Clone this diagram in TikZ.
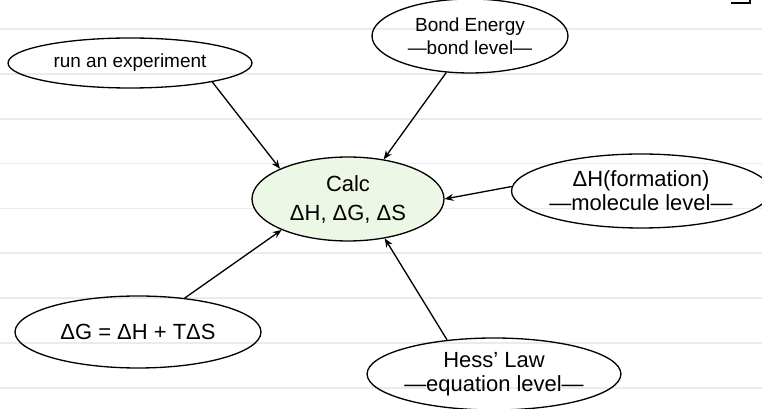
\documentclass[tikz,border=0pt]{standalone}
\usepackage{fontspec}
\setmainfont{Liberation Sans}
\usetikzlibrary{arrows.meta,shapes.geometric}
\definecolor{calcfill}{HTML}{EDF7E5}
\definecolor{ruleline}{HTML}{EBEBEB}

\begin{document}
\begin{tikzpicture}[x=0.02cm, y=0.02cm, >={Stealth[length=5pt,width=4pt]},
    topic/.style={ellipse, draw, line width=0.75pt, inner sep=0pt, align=center},
    small/.style={font=\fontsize{10.8}{13}\selectfont},
    big/.style={font=\fontsize{12.5}{13.5}\selectfont},
    link/.style={->, line width=0.75pt}]
                \useasboundingbox (0,0) rectangle (762,409);

                % ruled paper
                \foreach \k in {0,...,8}
                    \draw[ruleline, line width=1pt] (0,{380-44.85*\k}) -- (762,{380-44.85*\k});
                \draw[line width=1.2pt] (731,406) -- (750,406) -- (750,409);

                \node[topic, fill=calcfill, minimum width=3.84cm, minimum height=1.68cm,
                      font=\fontsize{12.5}{16.5}\selectfont] (calc) at (348,210) {Calc\\ΔH, ΔG, ΔS};
                \node[topic, small, minimum width=4.88cm, minimum height=1cm] (run) at (130,346) {run an experiment};
                \node[topic, small, minimum width=3.92cm, minimum height=1.48cm] (bond) at (470,373) {Bond Energy\\—bond level—};
                \node[topic, big, minimum width=4.84cm, minimum height=1.48cm] (form) at (641,218) {ΔH(formation)\\—molecule level—};
                \node[topic, big, minimum width=4.92cm, minimum height=1.44cm] (dg) at (138,77) {ΔG = ΔH + TΔS};
                \node[topic, big, minimum width=4.88cm, minimum height=1.44cm] (hess) at (494,35) {Hess’ Law\\—equation level—};

                \draw[link] (run.-13) -- (calc.156);
                \draw[link] (bond.237) -- (calc.48);
                \draw[link] (form.178.6) -- (calc.-0.6);
                \draw[link] (dg.36) -- (calc.205.6);
                \draw[link] (hess.144) -- (calc.-47.9);
            \end{tikzpicture}
\end{document}
